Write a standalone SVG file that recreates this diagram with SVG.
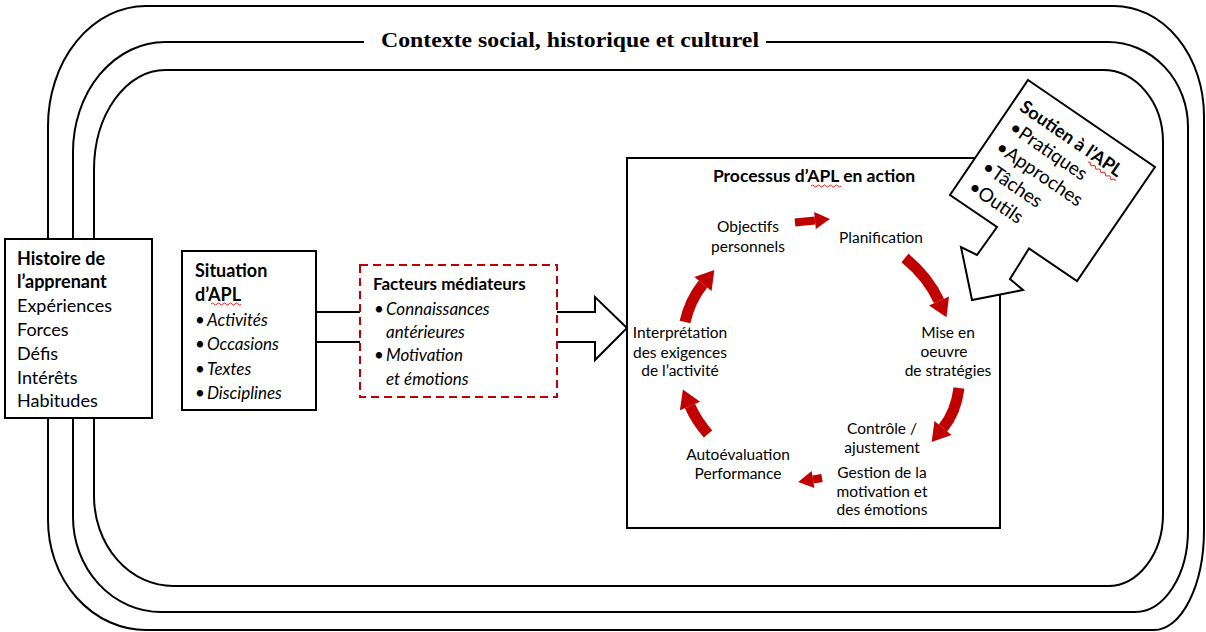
<svg xmlns="http://www.w3.org/2000/svg" width="1206" height="632" viewBox="0 0 1206 632">
<style>
.ring{fill:none;stroke:#000;stroke-width:2}
.box{fill:#fff;stroke:#000;stroke-width:2}
.t{font-family:Lato,"Liberation Sans",sans-serif;fill:#000}
.b{font-weight:bold}
.i{font-style:italic}
.lbl{font-family:Lato,"Liberation Sans",sans-serif;font-size:15.5px;fill:#000;text-anchor:middle}
.shaft{fill:none;stroke:#c00000;stroke-linecap:butt}
.sq{fill:none;stroke:#e02020;stroke-width:1}
</style>
<defs>
<marker id="hb" markerUnits="userSpaceOnUse" viewBox="-2 -15 24 30" markerWidth="24" markerHeight="30" refX="0" refY="0" orient="auto"><path d="M0,-11 L18,0 L0,11 z" fill="#c00000"/></marker>
<marker id="hs" markerUnits="userSpaceOnUse" viewBox="-2 -12 20 24" markerWidth="20" markerHeight="24" refX="0" refY="0" orient="auto"><path d="M0,-8.5 L15,0 L0,8.5 z" fill="#c00000"/></marker>
</defs>
<rect width="1206" height="632" fill="#fff"/>
<g id="context">
<path class="ring" d="M146,6 L1114,6 A90,110 0 0 1 1204,116 L1204,530 A50,100 0 0 1 1154,630 L146,630 A98,110 0 0 1 48,520 L48,126 A98,120 0 0 1 146,6 Z"/>
<path class="ring" d="M165,42 L1108,42 A80,85 0 0 1 1188,127 L1188,530 A53,82 0 0 1 1135,612 L161,612 A88,95 0 0 1 73,517 L73,152 A92,110 0 0 1 165,42 Z"/>
<path class="ring" d="M165,70 L1103,70 A60,72 0 0 1 1163,142 L1163,514 A55,72 0 0 1 1108,586 L173,586 A79,90 0 0 1 94,496 L94,170 A71,100 0 0 1 165,70 Z"/>
<rect x="364" y="28" width="402" height="26" fill="#fff"/>
<text x="570" y="47" font-family="'Liberation Serif',serif" font-weight="bold" font-size="21" text-anchor="middle" textLength="378" lengthAdjust="spacingAndGlyphs">Contexte social, historique et culturel</text>
</g>
<g id="connectors">
<polygon class="box" points="316,312 595,312 595,297 627,328 595,360 595,342 316,342"/>
</g>
<g id="histoire">
<rect class="box" x="5" y="239" width="147" height="179"/>
<text class="t" font-size="18"><tspan class="b" x="17" y="265">Histoire de</tspan><tspan class="b" x="17" y="288">l’apprenant</tspan><tspan x="17" y="312">Expériences</tspan><tspan x="17" y="336">Forces</tspan><tspan x="17" y="360">Défis</tspan><tspan x="17" y="384">Intérêts</tspan><tspan x="17" y="407">Habitudes</tspan></text>
</g>
<g id="situation">
<rect class="box" x="182" y="251" width="134" height="159"/>
<text class="t" font-size="18"><tspan class="b" x="195" y="277">Situation</tspan><tspan class="b" x="195" y="301">d’APL</tspan></text>
<path class="sq" d="M211,304 q1.5,-2 3,0 t3,0 t3,0 t3,0 t3,0 t3,0 t3,0 t3,0 t3,0 t3,0"/>
<text class="t" font-size="17"><tspan x="195" y="326">•</tspan><tspan class="i" x="207" y="326">Activités</tspan><tspan x="195" y="350">•</tspan><tspan class="i" x="207" y="350">Occasions</tspan><tspan x="195" y="375">•</tspan><tspan class="i" x="207" y="375">Textes</tspan><tspan x="195" y="399">•</tspan><tspan class="i" x="207" y="399">Disciplines</tspan></text>
</g>
<g id="facteurs">
<rect x="360" y="265" width="197" height="132" fill="#fff" stroke="#c00000" stroke-width="2" stroke-dasharray="8,5"/>
<text class="t" font-size="17"><tspan class="b" x="373" y="290">Facteurs médiateurs</tspan><tspan x="374" y="315">•</tspan><tspan class="i" x="386" y="315">Connaissances</tspan><tspan class="i" x="386" y="338">antérieures</tspan><tspan x="374" y="361">•</tspan><tspan class="i" x="386" y="361">Motivation</tspan><tspan class="i" x="386" y="385">et émotions</tspan></text>
</g>
<g id="processus">
<rect class="box" x="627" y="158" width="373" height="370" stroke-width="2.5"/>
<text class="t b" x="814" y="182" font-size="17.5" text-anchor="middle">Processus d’APL en action</text>
<path class="sq" d="M811,186 q1.5,-2 3,0 t3,0 t3,0 t3,0 t3,0 t3,0 t3,0 t3,0 t3,0 t3,0"/>
</g>
<g id="cycle-labels">
<text class="lbl"><tspan x="748" y="232">Objectifs</tspan><tspan x="748" y="252">personnels</tspan></text>
<text class="lbl" x="881" y="243">Planification</text>
<text class="lbl"><tspan x="948" y="338">Mise en</tspan><tspan x="944" y="357">oeuvre</tspan><tspan x="948" y="376">de stratégies</tspan></text>
<text class="lbl"><tspan x="882" y="434">Contrôle /</tspan><tspan x="882" y="453">ajustement</tspan></text>
<text class="lbl"><tspan x="882" y="478">Gestion de la</tspan><tspan x="882" y="497">motivation et</tspan><tspan x="882" y="515">des émotions</tspan></text>
<text class="lbl"><tspan x="738" y="460">Autoévaluation</tspan><tspan x="738" y="479">Performance</tspan></text>
<text class="lbl"><tspan x="680" y="338">Interprétation</tspan><tspan x="680" y="358">des exigences</tspan><tspan x="680" y="376">de l’activité</tspan></text>
</g>
<g id="cycle-arrows">
<path class="shaft" stroke-width="8" d="M795,222.5 L815,220.5" marker-end="url(#hs)"/>
<path class="shaft" stroke-width="11" d="M905,258 Q928,277 939,301" marker-end="url(#hb)"/>
<path class="shaft" stroke-width="11" d="M959,388 Q956,412 943,428" marker-end="url(#hb)"/>
<path class="shaft" stroke-width="8" d="M822,478 L813,479.5" marker-end="url(#hs)"/>
<path class="shaft" stroke-width="11" d="M708,434 Q696,420 690,406" marker-end="url(#hb)"/>
<path class="shaft" stroke-width="11" d="M685,322 Q690,300 703,284" marker-end="url(#hb)"/>
</g>
<g id="soutien">
<polygon class="box" points="1028,80 1155,167 1077,281 1029,248.5 1010,279 1023,290 972,300 961,247 977,255 997,227 950,195"/>
<g transform="translate(1028,80) rotate(34.4)">
<text class="t" font-size="18"><tspan class="b" x="9" y="30">Soutien à l’APL</tspan><tspan x="12" y="53" font-size="19">•Pratiques</tspan><tspan x="12" y="77" font-size="19">•Approches</tspan><tspan x="12" y="101" font-size="19">•Tâches</tspan><tspan x="12" y="125" font-size="19">•Outils</tspan></text>
<path class="sq" d="M96,34 q1.5,-2 3,0 t3,0 t3,0 t3,0 t3,0 t3,0 t3,0 t3,0 t3,0 t3,0 t3,0"/>
</g>
</g>
</svg>
